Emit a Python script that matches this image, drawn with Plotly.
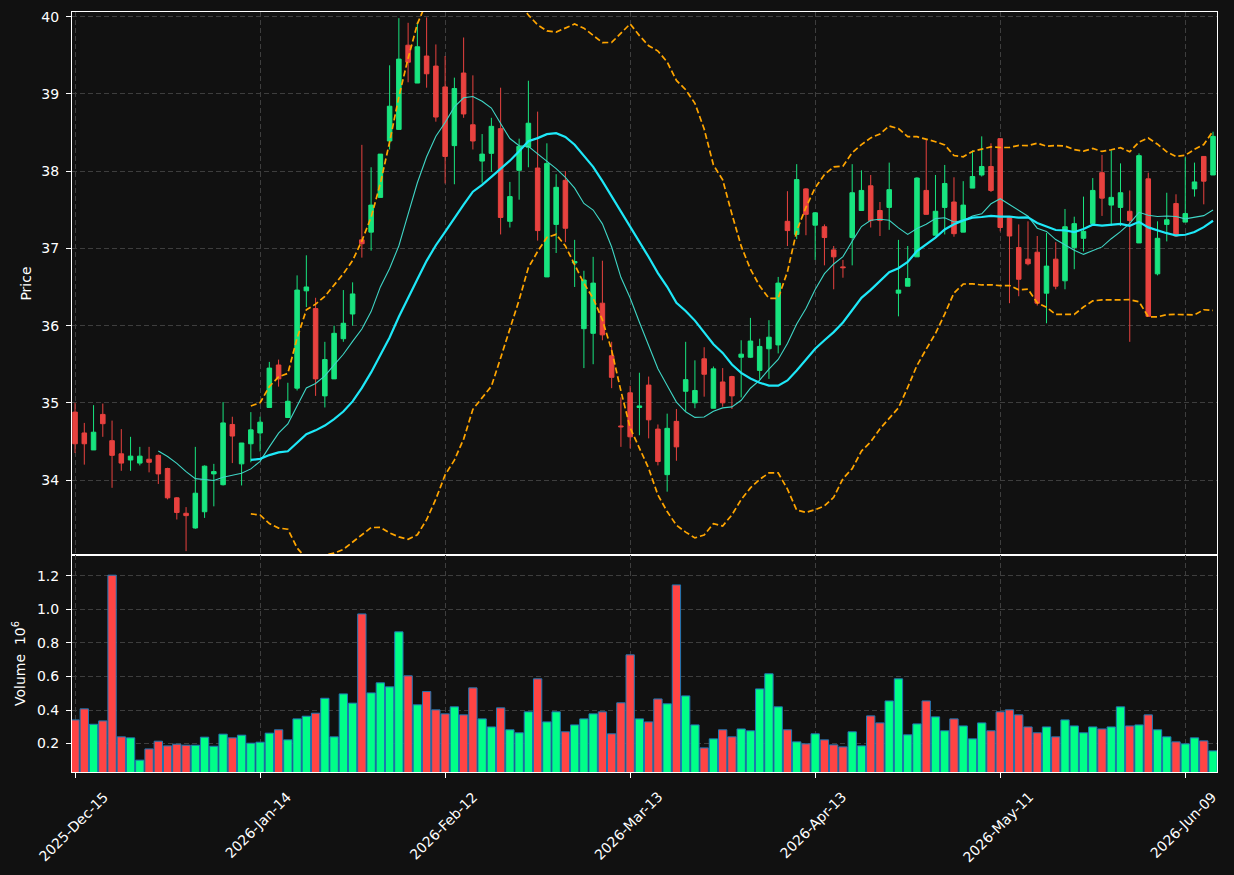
import plotly.graph_objects as go
from plotly.subplots import make_subplots
import pandas as pd

# ---- data ----
opens = [34.88, 34.61, 34.39, 34.85, 34.51, 34.34, 34.26, 34.22, 34.27, 34.32,
         34.15, 33.77, 33.57, 33.38, 33.59, 34.08, 33.94, 34.72, 34.21, 34.47,
         34.61, 34.94, 35.49, 34.81, 35.19, 36.45, 36.22, 35.09, 35.31, 35.83,
         36.15, 37.11, 37.21, 37.66, 38.39, 38.54, 39.63, 39.14, 39.49, 39.36,
         39.09, 38.33, 39.27, 38.60, 38.13, 38.23, 38.55, 37.35, 38.01, 38.31,
         38.04, 36.63, 37.31, 37.88, 36.81, 35.96, 35.90, 36.29, 35.61, 34.70,
         35.13, 34.94, 35.23, 34.66, 34.07, 34.76, 35.15, 35.00, 35.57, 34.93,
         35.27, 35.34, 35.59, 35.59, 35.42, 35.70, 35.75, 37.35, 37.18, 37.77,
         37.30, 37.28, 36.98, 36.76, 37.14, 37.49, 37.81, 37.49, 37.53, 36.42,
         36.51, 36.89, 37.75, 37.17, 37.53, 37.60, 37.21, 37.78, 37.95, 38.06,
         38.42, 37.40, 37.01, 36.86, 36.95, 36.42, 36.86, 36.58, 37.01, 37.13,
         37.32, 37.98, 37.56, 37.53, 37.48, 37.07, 37.90, 36.67, 37.31, 37.58,
         37.34, 37.77, 38.19, 37.95]
highs = [35.00, 34.74, 34.97, 34.99, 34.77, 34.66, 34.56, 34.43, 34.43, 34.33,
         34.16, 33.78, 33.65, 34.43, 34.19, 34.21, 35.01, 34.82, 34.48, 34.88,
         34.82, 35.53, 35.56, 35.26, 36.65, 36.91, 36.36, 35.79, 36.00, 36.46,
         36.56, 38.34, 38.05, 38.22, 39.37, 39.98, 39.92, 39.93, 39.99, 39.64,
         39.49, 39.21, 39.73, 39.24, 38.48, 38.69, 39.08, 37.86, 38.42, 39.17,
         38.77, 38.36, 37.96, 38.00, 37.11, 36.71, 36.89, 36.84, 35.79, 35.07,
         35.22, 35.39, 35.34, 34.72, 34.86, 34.92, 35.79, 35.55, 35.72, 35.47,
         35.45, 35.35, 35.81, 36.10, 35.83, 36.07, 36.63, 37.74, 38.09, 37.78,
         37.47, 37.31, 37.03, 36.85, 38.09, 38.01, 37.95, 37.60, 38.11, 37.11,
         37.03, 37.92, 38.41, 37.95, 38.08, 37.92, 37.87, 38.27, 38.45, 38.36,
         38.42, 37.40, 37.31, 37.35, 37.16, 37.20, 37.08, 37.51, 37.41, 37.67,
         37.91, 38.21, 38.27, 38.10, 37.75, 38.23, 37.98, 37.35, 37.72, 37.70,
         38.18, 38.11, 38.19, 38.51]
lows = [34.35, 34.20, 34.39, 34.56, 33.90, 34.12, 34.12, 34.19, 34.10, 33.95,
        33.75, 33.49, 33.08, 33.37, 33.51, 33.66, 33.93, 34.22, 33.93, 34.23,
        34.37, 34.94, 35.21, 34.81, 35.16, 36.24, 35.09, 34.94, 35.31, 35.79,
        36.00, 36.88, 36.97, 37.66, 38.28, 38.54, 39.15, 39.14, 39.08, 38.64,
        37.84, 37.83, 38.69, 38.28, 37.85, 37.99, 37.18, 37.27, 37.63, 38.05,
        37.10, 36.63, 36.94, 37.08, 36.50, 35.45, 35.50, 35.81, 35.19, 34.43,
        34.41, 34.58, 34.54, 34.19, 33.85, 34.25, 34.89, 34.93, 35.08, 34.93,
        34.95, 34.92, 35.07, 35.58, 35.30, 35.31, 35.64, 37.03, 37.12, 37.17,
        36.85, 36.78, 36.47, 36.62, 36.78, 37.49, 37.27, 37.16, 37.24, 36.12,
        36.51, 36.89, 37.44, 37.17, 37.18, 37.15, 37.21, 37.78, 37.93, 37.73,
        37.22, 36.29, 36.38, 36.78, 36.26, 36.03, 36.47, 36.47, 36.73, 36.96,
        37.31, 37.42, 37.29, 37.29, 35.79, 37.07, 36.12, 36.65, 37.09, 37.15,
        37.34, 37.67, 37.57, 37.95]
closes = [34.47, 34.47, 34.62, 34.73, 34.32, 34.22, 34.31, 34.31, 34.23, 34.08,
          33.77, 33.58, 33.54, 33.83, 34.18, 34.11, 34.74, 34.57, 34.48, 34.65,
          34.75, 35.45, 35.31, 35.02, 36.46, 36.50, 35.31, 35.56, 35.90, 36.03,
          36.41, 37.06, 37.56, 38.22, 38.84, 39.45, 39.41, 39.61, 39.26, 38.70,
          38.19, 39.07, 38.74, 38.39, 38.22, 38.58, 37.40, 37.67, 38.32, 38.62,
          37.23, 38.10, 37.79, 37.26, 36.83, 36.59, 36.55, 35.88, 35.33, 34.69,
          34.56, 34.96, 34.78, 34.24, 34.67, 34.43, 35.30, 35.16, 35.37, 35.44,
          35.00, 35.09, 35.63, 35.80, 35.73, 35.85, 36.55, 37.23, 37.89, 37.44,
          37.46, 37.14, 36.89, 36.75, 37.72, 37.75, 37.36, 37.36, 37.76, 36.46,
          36.61, 37.91, 37.44, 37.48, 37.84, 37.19, 37.56, 37.93, 38.06, 37.75,
          37.27, 37.16, 36.60, 36.80, 36.29, 36.77, 36.51, 37.28, 37.32, 37.22,
          37.75, 37.65, 37.66, 37.72, 37.36, 38.20, 36.12, 37.13, 37.37, 37.16,
          37.45, 37.86, 37.87, 38.45]
volumes_m = [0.341, 0.407, 0.315, 0.335, 1.204, 0.240, 0.234, 0.101, 0.168, 0.214,
             0.186, 0.196, 0.190, 0.190, 0.238, 0.184, 0.256, 0.234, 0.250, 0.202,
             0.208, 0.262, 0.282, 0.222, 0.347, 0.363, 0.381, 0.470, 0.240, 0.496,
             0.441, 0.973, 0.502, 0.562, 0.538, 0.866, 0.604, 0.431, 0.510, 0.401,
             0.377, 0.419, 0.371, 0.532, 0.347, 0.299, 0.413, 0.282, 0.264, 0.389,
             0.586, 0.329, 0.389, 0.270, 0.311, 0.347, 0.377, 0.389, 0.258, 0.443,
             0.729, 0.347, 0.329, 0.466, 0.437, 1.146, 0.484, 0.311, 0.174, 0.228,
             0.282, 0.240, 0.287, 0.276, 0.526, 0.616, 0.419, 0.282, 0.210, 0.198,
             0.258, 0.222, 0.192, 0.180, 0.270, 0.186, 0.365, 0.323, 0.454, 0.586,
             0.252, 0.317, 0.454, 0.359, 0.276, 0.347, 0.305, 0.228, 0.323, 0.276,
             0.389, 0.401, 0.371, 0.299, 0.264, 0.299, 0.240, 0.341, 0.305, 0.264,
             0.299, 0.287, 0.299, 0.419, 0.305, 0.311, 0.371, 0.282, 0.240, 0.210,
             0.198, 0.234, 0.216, 0.156]
tick_pos = [0, 20, 40, 60, 80, 100, 120]
tick_labels = ['2025-Dec-15', '2026-Jan-14', '2026-Feb-12', '2026-Mar-13',
               '2026-Apr-13', '2026-May-11', '2026-Jun-09']
price_ticks = [34, 35, 36, 37, 38, 39, 40]
vol_ticks = [0.2, 0.4, 0.6, 0.8, 1.0, 1.2]

# ---- indicators derived from the closes ----
idx = list(range(len(closes)))
cs = pd.Series(closes)
sma20 = cs.rolling(20).mean()
sma10 = cs.rolling(10).mean()
std20 = cs.rolling(20).std(ddof=0)
upper = sma20 + 2 * std20
lower = sma20 - 2 * std20

UP_C, DN_C = '#18e47f', '#e8423f'
UP_V, DN_V = '#00ff88', '#ff4444'
BG = '#111111'
GRID = '#3e3e3e'
FONT = 'DejaVu Sans'

fig = make_subplots(rows=2, cols=1, shared_xaxes=True, vertical_spacing=0,
                    row_heights=[543, 217])

fig.add_trace(go.Candlestick(
    x=idx, open=opens, high=highs, low=lows, close=closes,
    increasing=dict(line=dict(color=UP_C, width=1), fillcolor=UP_C),
    decreasing=dict(line=dict(color=DN_C, width=1), fillcolor=DN_C),
    whiskerwidth=0, showlegend=False, hoverinfo='skip'), row=1, col=1)

fig.add_trace(go.Scatter(x=idx, y=sma10, mode='lines',
                         line=dict(color='#3fd6c6', width=1.1),
                         showlegend=False, hoverinfo='skip'), row=1, col=1)
fig.add_trace(go.Scatter(x=idx, y=sma20, mode='lines',
                         line=dict(color='#1ee8f8', width=2.2),
                         showlegend=False, hoverinfo='skip'), row=1, col=1)
for band in (upper, lower):
    fig.add_trace(go.Scatter(x=idx, y=band, mode='lines',
                             line=dict(color='#ffa500', width=1.7, dash='6px,3px'),
                             showlegend=False, hoverinfo='skip'), row=1, col=1)

vcolors = [UP_V if c >= o else DN_V for o, c in zip(opens, closes)]
fig.add_trace(go.Bar(x=idx, y=volumes_m, marker=dict(color=vcolors,
                     line=dict(color='#1f77b4', width=1)),
                     width=0.9, showlegend=False, hoverinfo='skip'), row=2, col=1)

axis_common = dict(showline=True, mirror=True, linecolor='white', linewidth=1,
                   showgrid=True, gridcolor=GRID, griddash='5px,3px', gridwidth=1,
                   zeroline=False, ticks='outside', tickcolor='white', ticklen=5,
                   automargin=False,
                   tickfont=dict(color='white', size=14, family=FONT))

fig.update_xaxes(**axis_common, range=[-0.33, 123.43], tickvals=tick_pos,
                 showticklabels=False)
fig.update_xaxes(ticks='', rangeslider=dict(visible=False), row=1, col=1)

fig.update_yaxes(**axis_common, ticklabelstandoff=4)
fig.update_yaxes(range=[33.03, 40.06], tickvals=price_ticks,
                 title=dict(text='Price', font=dict(color='white', size=14, family=FONT),
                            standoff=6), row=1, col=1)
vmin = 0.3 * min(volumes_m)
vmax = 1.1 * max(volumes_m)
fig.update_yaxes(range=[vmin, vmax], tickvals=vol_ticks,
                 ticktext=[f'{v:.1f}' for v in vol_ticks],
                 title=dict(text='Volume  10<sup>6</sup>',
                            font=dict(color='white', size=14, family=FONT),
                            standoff=8), row=2, col=1)

# rotated date labels centred under their ticks
for pos, lab in zip(tick_pos, tick_labels):
    fig.add_annotation(x=pos, y=0, xref='x2', yref='paper', text=lab,
                       textangle=-45, showarrow=False, xanchor='center',
                       yanchor='top', yshift=-14, xshift=-2,
                       font=dict(color='white', size=14, family=FONT))

fig.update_layout(width=1234, height=875,
                  margin=dict(l=72, r=17, t=12, b=103),
                  paper_bgcolor=BG, plot_bgcolor=BG,
                  barmode='overlay', bargap=0.1,
                  boxgap=0.3, boxgroupgap=0.3,
                  font=dict(family=FONT, color='white', size=14),
                  showlegend=False)

fig.write_html('out.html')
